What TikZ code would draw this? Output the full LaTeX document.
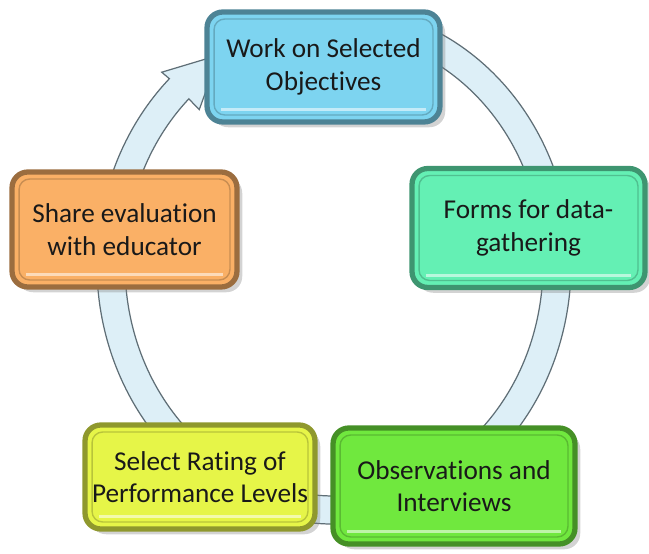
\documentclass[tikz,border=0pt]{standalone}
\usepackage{fontspec}
\setmainfont{Carlito}[Ligatures=NoCommon]
\usetikzlibrary{shadows}
\definecolor{objcol}{RGB}{125,212,240}
\definecolor{formcol}{RGB}{100,240,180}
\definecolor{obscol}{RGB}{112,232,62}
\definecolor{selcol}{RGB}{230,245,72}
\definecolor{sharecol}{RGB}{250,176,102}
\definecolor{ringfill}{RGB}{221,239,247}
\definecolor{ringedge}{RGB}{95,110,118}
\begin{document}
\begin{tikzpicture}[x=0.02cm, y=0.02cm,
    stage/.style={rectangle, rounded corners=9pt, draw=#1!62!black, fill=#1,
        line width=3pt, align=center, text=black!90,
        font=\fontsize{15.5}{18.5}\selectfont,
        drop shadow={opacity=0.35, shadow xshift=3pt, shadow yshift=-3pt},
        path picture={\draw[#1!80!black, line width=0.8pt, rounded corners=6pt]
            ([shift={(4pt,-4pt)}]path picture bounding box.north west) rectangle
            ([shift={(-4pt,4pt)}]path picture bounding box.south east);
            \draw[white, opacity=0.55, line width=1.5pt]
            ([shift={(8pt,7pt)}]path picture bounding box.south west) --
            ([shift={(-8pt,7pt)}]path picture bounding box.south east);}},
    ring/.style={draw=ringedge, line width=0.7pt, fill=ringfill}]
    \useasboundingbox (0,0) rectangle (649,554);
    % the cycle ring with its arrow head
    \begin{scope}[shift={(334,289)}]
        \path[ring] (75:237 and 259) arc[start angle=75, end angle=-226, x radius=237, y radius=259]
            -- (134:248 and 268) -- (121:223 and 245) -- (134:194 and 216)
            -- (134:209 and 231) arc[start angle=134, end angle=435, x radius=209, y radius=231]
            -- cycle;
    \end{scope}
    % the five stages
    \node[stage=objcol, minimum width=4.66cm, minimum height=2.2cm] (obj) at (323.5,487) {Work on Selected\\Objectives};
    \node[stage=formcol, minimum width=4.66cm, minimum height=2.38cm] (forms) at (528.5,326) {Forms for data-\\gathering};
    \node[stage=obscol, minimum width=4.84cm, minimum height=2.32cm] (obs) at (454,68) {Observations and\\Interviews};
    \node[stage=selcol, minimum width=4.6cm, minimum height=2.08cm] (select) at (200,77) {Select Rating of\\Performance Levels};
    \node[stage=sharecol, minimum width=4.5cm, minimum height=2.3cm] (share) at (124.5,324.5) {Share evaluation\\with educator};
\end{tikzpicture}
\end{document}
